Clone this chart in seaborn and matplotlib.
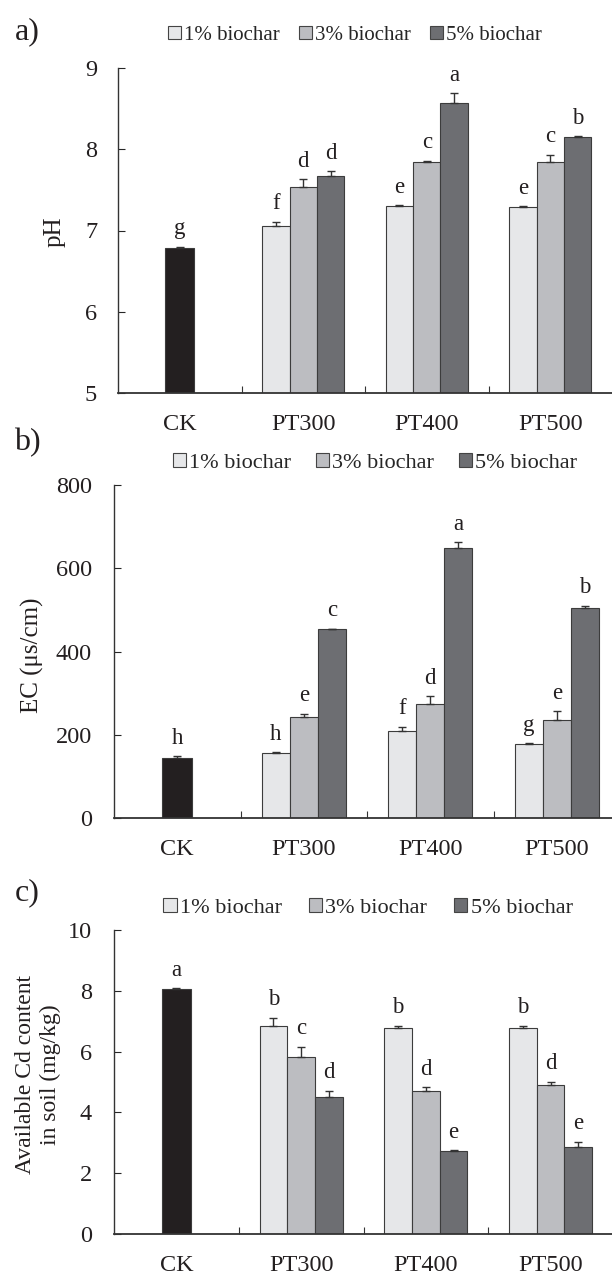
import matplotlib
matplotlib.use("Agg")
import matplotlib.pyplot as plt
import seaborn as sns
import pandas as pd
from matplotlib.patches import Patch

# Data
groups = ["CK", "PT300", "PT400", "PT500"]
treatments = ["PT300", "PT400", "PT500"]
rates = ["1% biochar", "3% biochar", "5% biochar"]

# a) pH
ph_ck, ph_ck_err, ph_ck_letter = 6.79, 0.01, "g"
ph_1 = [7.06, 7.30, 7.29]
ph_3 = [7.53, 7.84, 7.84]
ph_5 = [7.67, 8.57, 8.15]
ph_1_err = [0.05, 0.01, 0.01]
ph_3_err = [0.10, 0.02, 0.09]
ph_5_err = [0.06, 0.12, 0.01]
ph_1_let = ["f", "e", "e"]
ph_3_let = ["d", "c", "c"]
ph_5_let = ["d", "a", "b"]

# b) EC
ec_ck, ec_ck_err, ec_ck_letter = 145, 3, "h"
ec_1 = [155, 210, 177]
ec_3 = [242, 274, 235]
ec_5 = [453, 648, 505]
ec_1_err = [3, 9, 3]
ec_3_err = [8, 19, 21]
ec_5_err = [2, 15, 5]
ec_1_let = ["h", "f", "g"]
ec_3_let = ["e", "d", "e"]
ec_5_let = ["c", "a", "b"]

# c) available Cd
cd_ck, cd_ck_err, cd_ck_letter = 8.05, 0.03, "a"
cd_1 = [6.85, 6.77, 6.77]
cd_3 = [5.83, 4.71, 4.90]
cd_5 = [4.52, 2.73, 2.87]
cd_1_err = [0.27, 0.08, 0.08]
cd_3_err = [0.33, 0.11, 0.11]
cd_5_err = [0.20, 0.03, 0.16]
cd_1_let = ["b", "b", "b"]
cd_3_let = ["c", "d", "d"]
cd_5_let = ["d", "e", "e"]

rate_colors = ["#e6e7e9", "#bcbdc1", "#6d6e72"]
ck_color = "#231f20"
edge = "#3c3c3c"

sns.set_style("white")
plt.rcParams["font.family"] = ["Liberation Serif", "DejaVu Serif"]
plt.rcParams["axes.edgecolor"] = "#333333"
plt.rcParams["axes.linewidth"] = 1.0

fig = plt.figure(figsize=(6.12, 12.75), dpi=100)
W, H = 612.0, 1275.0


def add_axes_px(left, right, top, bottom):
    return fig.add_axes([left / W, 1 - bottom / H, (right - left) / W, (bottom - top) / H])


def draw_panel(ax, ck, ck_err, ck_let, vals, errs, lets, ylim, yticks, ypad):
    df = pd.DataFrame({
        "group": [t for r in rates for t in treatments],
        "rate": [r for r in rates for t in treatments],
        "value": [v for series in vals for v in series],
    })
    ck_df = pd.DataFrame({"group": ["CK"], "value": [ck]})

    sns.barplot(data=ck_df, x="group", y="value", order=groups, color=ck_color,
                saturation=1, width=0.235, edgecolor=edge, linewidth=0.8,
                errorbar=None, ax=ax)
    sns.barplot(data=df, x="group", y="value", hue="rate", order=groups,
                hue_order=rates, palette=rate_colors, saturation=1, width=0.667,
                edgecolor=edge, linewidth=0.8, errorbar=None, legend=False, ax=ax)

    # error bars (upper only) and significance letters
    all_errs = [[ck_err]] + errs
    all_lets = [[ck_let]] + lets
    for cont, e_list, l_list in zip(ax.containers, all_errs, all_lets):
        bars = [b for b in cont if b.get_height() > 0]
        for b, e, lt in zip(bars, e_list, l_list):
            xc = b.get_x() + b.get_width() / 2
            top = b.get_height()
            ax.errorbar(xc, top, yerr=[[0], [e]], fmt="none", ecolor="#333333",
                        elinewidth=1.0, capsize=3, capthick=1.0)
            ax.annotate(lt, (xc, top + e), xytext=(0, 9), textcoords="offset points",
                        ha="center", va="baseline", fontsize=16.5, color="#231f20")

    ax.set_ylim(*ylim)
    ax.set_yticks(yticks)
    ax.set_xlim(-0.5, 3.5)
    ax.set_xlabel("")
    ax.set_ylabel("")
    ax.set_xticks(range(len(groups)))
    ax.set_xticklabels(groups)
    ax.set_xticks([0.5, 1.5, 2.5], minor=True)
    ax.tick_params(axis="x", which="major", length=0, pad=15, labelsize=17.5,
                   labelcolor="#231f20")
    ax.tick_params(axis="x", which="minor", direction="in", length=5, width=0.8,
                   color="#333333", bottom=True)
    ax.tick_params(axis="y", direction="in", length=5, width=0.8, pad=ypad,
                   labelsize=17.5, left=True, labelcolor="#231f20")
    ax.spines["bottom"].set_linewidth(1.3)
    sns.despine(ax=ax)


def legend_at(x, y, size, colspace):
    handles = [Patch(facecolor=c, edgecolor="#444444", linewidth=0.8) for c in rate_colors]
    fig.legend(handles, rates, loc="center", bbox_to_anchor=(x / W, 1 - y / H),
               ncol=3, frameon=False, fontsize=size, handlelength=0.6,
               handleheight=0.6, handletextpad=0.15, columnspacing=colspace,
               borderpad=0, borderaxespad=0)


ax_a = add_axes_px(118, 612, 68, 393)
draw_panel(ax_a, ph_ck, ph_ck_err, ph_ck_letter, [ph_1, ph_3, ph_5],
           [ph_1_err, ph_3_err, ph_5_err], [ph_1_let, ph_3_let, ph_5_let],
           (5, 9), [5, 6, 7, 8, 9], 15)

ax_b = add_axes_px(114, 620, 485, 818)
draw_panel(ax_b, ec_ck, ec_ck_err, ec_ck_letter, [ec_1, ec_3, ec_5],
           [ec_1_err, ec_3_err, ec_5_err], [ec_1_let, ec_3_let, ec_5_let],
           (0, 800), [0, 200, 400, 600, 800], 16)

ax_c = add_axes_px(114, 613, 930, 1234)
draw_panel(ax_c, cd_ck, cd_ck_err, cd_ck_letter, [cd_1, cd_3, cd_5],
           [cd_1_err, cd_3_err, cd_5_err], [cd_1_let, cd_3_let, cd_5_let],
           (0, 10), [0, 2, 4, 6, 8, 10], 16)

# y labels
fig.text(55 / W, 1 - 232 / H, "pH", rotation=90, ha="center", va="center",
         fontsize=18, color="#231f20")
fig.text(32 / W, 1 - 655 / H, "EC (μs/cm)", rotation=90, ha="center", va="center",
         fontsize=18, color="#231f20")
fig.text(38 / W, 1 - 1075 / H, "Available Cd content\nin soil (mg/kg)", rotation=90,
         ha="center", va="center", multialignment="center", linespacing=1.25,
         fontsize=17, color="#231f20")

# panel letters
for lab, yy in [("a)", 32), ("b)", 443), ("c)", 893)]:
    fig.text(27 / W, 1 - yy / H, lab, ha="center", va="center", fontsize=23,
             color="#231f20")

# legends
legend_at(355, 35, 15, 0.95)
legend_at(375, 463, 16, 1.1)
legend_at(368, 908, 16, 1.2)

fig.savefig("out.png", dpi=100)
